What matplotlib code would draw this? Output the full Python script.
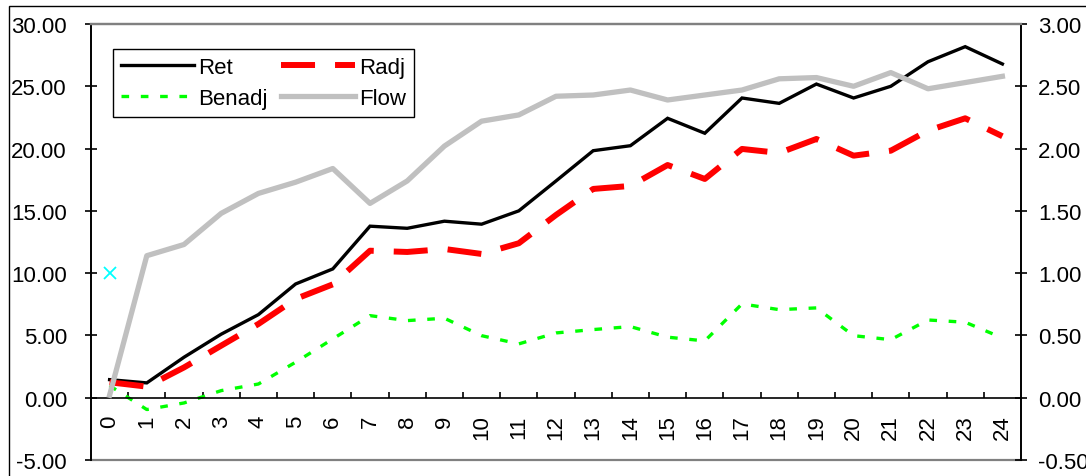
import numpy as np
import matplotlib
import matplotlib.pyplot as plt
from matplotlib.patches import Rectangle
from matplotlib.lines import Line2D
from matplotlib.ticker import FixedLocator, FormatStrFormatter, NullFormatter

matplotlib.use("agg")
plt.rcParams["font.family"] = ["Liberation Sans", "DejaVu Sans"]
plt.rcParams["axes.unicode_minus"] = False
plt.rcParams["lines.scale_dashes"] = False

periods = [str(i) for i in range(25)]

ret = [1.45, 1.19, 3.25, 5.1, 6.67, 9.13, 10.34, 13.77, 13.6, 14.17, 13.93, 15.0,
       17.4, 19.83, 20.23, 22.43, 21.23, 24.06, 23.63, 25.18, 24.06, 25.0, 26.97,
       28.18, 26.79]
radj = [1.24, 0.89, 2.43, 4.18, 5.92, 7.93, 9.1, 11.8, 11.7, 11.94, 11.54, 12.4,
        14.67, 16.76, 17.0, 18.68, 17.56, 19.97, 19.65, 20.77, 19.43, 19.83, 21.44,
        22.43, 20.99]
benadj = [0.97, -0.95, -0.42, 0.57, 1.1, 2.85, 4.72, 6.59, 6.19, 6.38, 4.98, 4.32,
          5.2, 5.47, 5.71, 4.86, 4.56, 7.53, 7.07, 7.21, 4.98, 4.66, 6.24, 6.06, 4.8]
flow = [0.02, 1.14, 1.23, 1.48, 1.64, 1.73, 1.84, 1.56, 1.74, 2.02, 2.22, 2.27,
        2.42, 2.43, 2.47, 2.39, 2.43, 2.47, 2.56, 2.57, 2.5, 2.61, 2.48, 2.53, 2.58]
marker_x = [0]
marker_y = [10.0]

FS = 16
W, H = 1086, 477
fig = plt.figure(figsize=(W / 100, H / 100), dpi=100)
ax = fig.add_axes([91 / W, 1 - 461 / H, (1021 - 91) / W, (461 - 25) / H])
ax2 = ax.twinx()

x = np.arange(len(periods))

ax.plot(x, ret, color="black", lw=2.4, solid_joinstyle="miter")
ax.plot(x, radj, color="#ff0000", lw=4.3, dashes=(24.5, 14.4))
ax.plot(x, benadj, color="#00ff00", lw=2.4, dashes=(5.5, 8.4))
ax.plot(marker_x, marker_y, ls="none", marker="x", color="#00ffff", ms=8.5, mew=1.3)
ax2.plot(x, flow, color="#c0c0c0", lw=3.8)

ax.set_xlim(-0.5, len(periods) - 0.5)
ax.set_ylim(-5, 30)
ax2.set_ylim(-0.5, 3.0)

# left axis
ax.yaxis.set_major_locator(FixedLocator(np.arange(-5, 30.1, 5)))
ax.yaxis.set_major_formatter(FormatStrFormatter("%.2f"))
ax.tick_params(axis="y", direction="inout", length=9, width=1.2, pad=12.8,
               labelsize=FS)

# right axis
ax2.yaxis.set_major_locator(FixedLocator(np.arange(-0.5, 3.01, 0.5)))
ax2.yaxis.set_major_formatter(FormatStrFormatter("%.2f"))
ax2.tick_params(axis="y", direction="inout", length=9, width=1.2, pad=7.7,
                labelsize=FS)

# category axis sits on the zero line, ticks between categories
ax.spines["bottom"].set_position(("data", 0))
ax.xaxis.set_major_locator(FixedLocator(np.arange(0.5, len(periods) - 1, 1)))
ax.xaxis.set_major_formatter(NullFormatter())
ax.set_xticks(x, periods, minor=True)
ax.tick_params(axis="x", which="major", direction="in", length=4.3, width=1.2)
ax.tick_params(axis="x", which="minor", length=0, pad=12, labelsize=FS,
               labelrotation=90)

for a in (ax, ax2):
    a.spines["top"].set_color("#808080")
    a.spines["top"].set_linewidth(1.6)
ax.spines["left"].set_linewidth(1.4)
ax.spines["right"].set_visible(False)
ax.spines["bottom"].set_linewidth(1.2)
ax2.spines["left"].set_visible(False)
ax2.spines["bottom"].set_visible(False)
ax2.spines["right"].set_linewidth(1.4)
ax.axhline(-5, color="#808080", lw=1.6, clip_on=False)

handles = [
    Line2D([], [], color="black", lw=2.4),
    Line2D([], [], color="#00ff00", lw=2.4, dashes=(5.5, 8.4)),
    Line2D([], [], color="#ff0000", lw=4.3, dashes=(24.5, 14.4)),
    Line2D([], [], color="#c0c0c0", lw=3.8),
]
labels = ["Ret", "Benadj", "Radj", "Flow"]
leg = ax2.legend(handles, labels, ncol=2, loc="upper left",
                 bbox_to_anchor=(113 / W, 1 - 50 / H), bbox_transform=fig.transFigure,
                 borderaxespad=0, fontsize=FS, frameon=True, fancybox=False,
                 edgecolor="black", framealpha=1, handlelength=3.3,
                 handletextpad=0.2, columnspacing=0.6, labelspacing=0.45,
                 borderpad=0.35)
leg.get_frame().set_linewidth(1.0)

fig.patches.append(Rectangle((9.3 / W, -0.1), 1.2, 1.1 - 6.7 / H, fill=False,
                             edgecolor="black", lw=1.0, transform=fig.transFigure))

fig.savefig("out.png", dpi=100)
